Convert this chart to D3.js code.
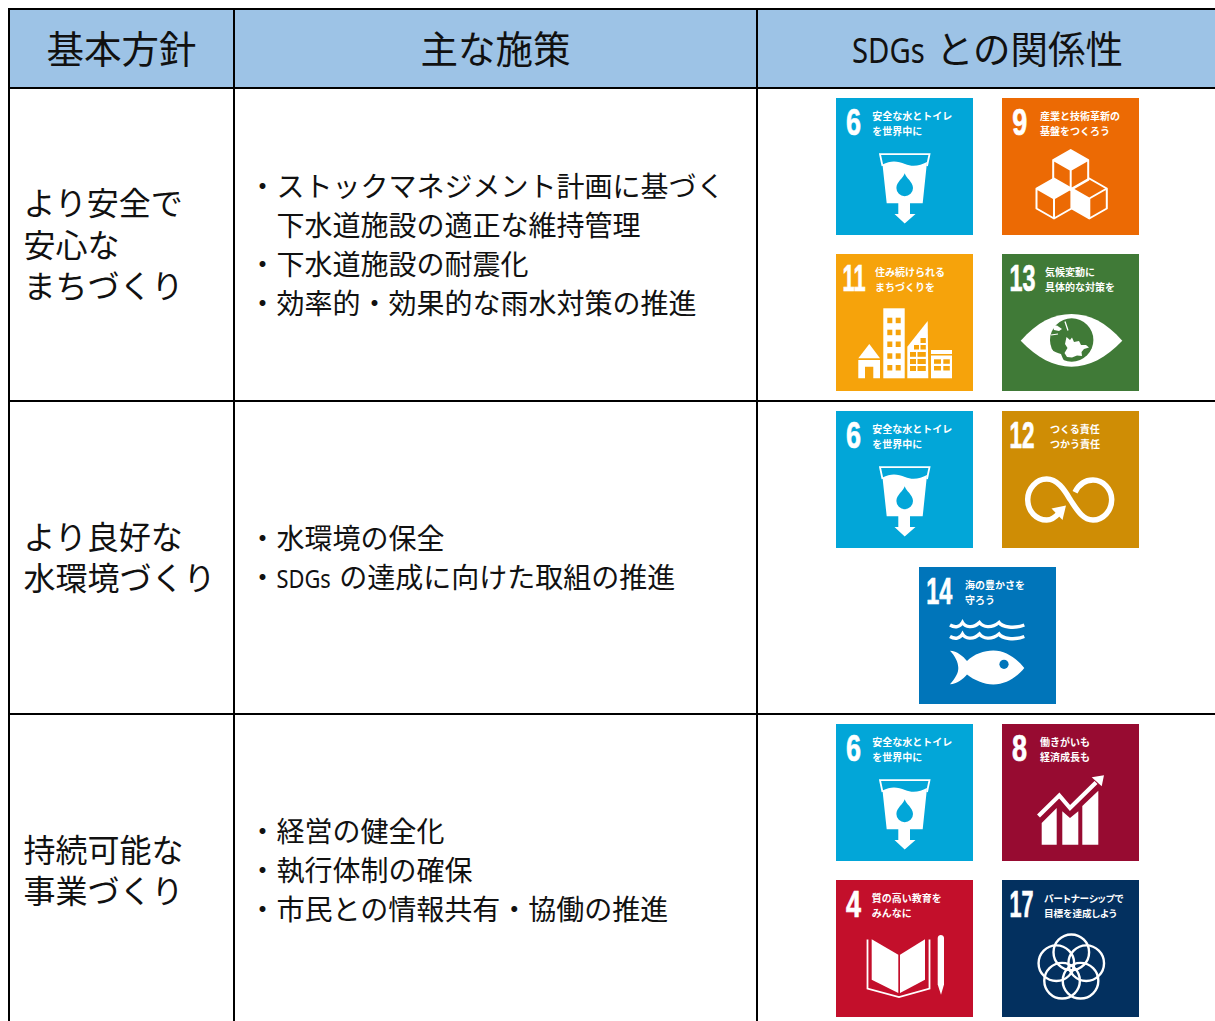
<!DOCTYPE html>
<html lang="ja">
<head>
    <meta charset="UTF-8">
    <title>基本方針とSDGs</title>
    <script src="https://cdnjs.cloudflare.com/ajax/libs/d3/7.8.5/d3.min.js"></script>
    <style>
        html, body { margin: 0; padding: 0; background: #fff; overflow: hidden; }
        svg { display: block; }
    </style>
</head>
<body>
<script>
    // table content
    var headers = ["基本方針", "主な施策", "SDGs との関係性"];
    var policies = [
        ["より安全で", "安心な", "まちづくり"],
        ["より良好な", "水環境づくり"],
        ["持続可能な", "事業づくり"]
    ];
    var measures = [
        ["・ストックマネジメント計画に基づく", "　下水道施設の適正な維持管理", "・下水道施設の耐震化", "・効率的・効果的な雨水対策の推進"],
        ["・水環境の保全", "・SDGs の達成に向けた取組の推進"],
        ["・経営の健全化", "・執行体制の確保", "・市民との情報共有・協働の推進"]
    ];
    var rowGoals = [[6, 9, 11, 13], [6, 12, 14], [6, 8, 4, 17]];

    // SDGs goals
    var goalIds = [4, 6, 8, 9, 11, 12, 13, 14, 17];
    var goalLines = [
        ["質の高い教育を", "みんなに"],
        ["安全な水とトイレ", "を世界中に"],
        ["働きがいも", "経済成長も"],
        ["産業と技術革新の", "基盤をつくろう"],
        ["住み続けられる", "まちづくりを"],
        ["つくる責任", "つかう責任"],
        ["気候変動に", "具体的な対策を"],
        ["海の豊かさを", "守ろう"],
        ["パートナーシップで", "目標を達成しよう"]
    ];
    var goalColors = ["#c30f2b", "#02a6d8", "#970b31", "#ec6a04", "#f6a30b", "#cf8d05", "#407a37", "#0075ba", "#03305f"];
    var goalLabelX = [35.7, 36.3, 38, 38, 39, 48, 43, 46, 42];
    var goalNumberX = [10, 10, 10, 10.3, 6.5, 7.5, 7.5, 7.2, 7.5];
    var goalNumberW = [15, 15, 15, 15, 23, 25, 26, 26, 24];

    var width = 1215, height = 1021;
    var lineColor = "#000", headFill = "#9dc3e6", textColor = "#111";
    var jpFont = "'Noto Sans CJK JP', sans-serif";

    var columnEdges = [9, 234, 757, 1300];
    var headStart = [46.5, 420.5, 852];
    var headTop = 9, headBottom = 88, rowH = 313;

    var rowY = d3.scaleLinear().domain([0, 1]).range([headBottom, headBottom + rowH]);
    var goalColor = d3.scaleOrdinal(goalIds, goalColors);
    var tileSize = 137;
    var tileX = d3.scalePoint().domain([0, 1]).range([836, 1002]);
    var tileY = d3.scalePoint().domain([0, 1]).range([10, 166]);

    var svg = d3.select("body").append("svg")
        .attr("width", width).attr("height", height)
        .attr("font-family", jpFont);

    // header band
    svg.append("rect").attr("x", columnEdges[0]).attr("y", headTop)
        .attr("width", width - columnEdges[0]).attr("height", headBottom - headTop)
        .attr("fill", headFill);

    function plain(x, y, size, str) {
        return svg.append("text").attr("x", x).attr("y", y).attr("font-size", size)
            .attr("fill", textColor).text(str);
    }
    // the word SDGs is squeezed narrow like in the source font, so it gets its own text
    function writeLine(x, y, size, str) {
        var at = str.indexOf("SDGs");
        if (at < 0) { plain(x, y, size, str); return; }
        var cursor = x;
        if (at > 0) { plain(cursor, y, size, str.slice(0, at)); cursor += at * size; }
        var w = size * 1.94;
        plain(cursor, y, size, "SDGs").attr("font-family", "'Noto Sans', sans-serif")
            .attr("font-size", size * 0.93)
            .attr("textLength", w).attr("lengthAdjust", "spacingAndGlyphs");
        plain(cursor + w + size * 0.3, y, size, str.slice(at + 4).trim());
    }

    headers.forEach(function (h, i) { writeLine(headStart[i], 62.5, 37.5, h); });

    // rows
    function lines(rowIdx, arr, x, size, step) {
        var mid = rowY(rowIdx + 0.5);
        arr.forEach(function (s, i) {
            var cy = mid + (i - (arr.length - 1) / 2) * step;
            writeLine(x, cy + size * 0.38, size, s);
        });
    }
    policies.forEach(function (p, i) { lines(i, p, 23.5, 32, 41.5); });
    measures.forEach(function (m, i) { lines(i, m, 248.5, 28, 39); });

    // icons, drawn in tile units
    function solid(g, d, fill) { return g.append("path").attr("d", d).attr("fill", fill || "#fff"); }
    function stroked(g, d, w) {
        return g.append("path").attr("d", d).attr("fill", "none").attr("stroke", "#fff").attr("stroke-width", w);
    }
    function cube(g, cx, cy, filled) {
        var dx = 17.5, dy = 10;
        var hex = "M" + cx + "," + (cy - 2 * dy) + "L" + (cx + dx) + "," + (cy - dy) + "V" + (cy + dy) +
            "L" + cx + "," + (cy + 2 * dy) + "L" + (cx - dx) + "," + (cy + dy) + "V" + (cy - dy) + "Z";
        var spokes = "M" + (cx - dx) + "," + (cy - dy) + "L" + cx + "," + cy + "L" + (cx + dx) + "," + (cy - dy) +
            "M" + cx + "," + cy + "V" + (cy + 2 * dy);
        stroked(g, hex + spokes, 2).attr("stroke-linejoin", "round");
        if (filled === "top") {
            solid(g, "M" + cx + "," + (cy - 2 * dy) + "L" + (cx + dx) + "," + (cy - dy) + "L" + cx + "," + cy + "L" + (cx - dx) + "," + (cy - dy) + "Z");
        } else if (filled === "left") {
            solid(g, "M" + (cx - dx) + "," + (cy - dy) + "L" + cx + "," + cy + "V" + (cy + 2 * dy) + "L" + (cx - dx) + "," + (cy + dy) + "Z");
        }
    }
    function rects(g, list, fill) {
        list.forEach(function (r) {
            g.append("rect").attr("x", r[0]).attr("y", r[1]).attr("width", r[2]).attr("height", r[3]).attr("fill", fill);
        });
    }

    var icons = {
        6: function (g, c) {
            stroked(g, "M46.5,68L44,56.2H93.5L91,68", 1.8);
            solid(g, "M46.5,66.5C55,62 62,63 69,66C76,69 84,68 91,64L86.7,105.3H74V116H79.5L68.7,125.5L58.5,116H62.3V105.3H50.7Z");
            solid(g, "M68.7,75.3C70,80 77,84 77,90A8.3,8.3 0 0 1 60.4,90C60.4,84 67.4,80 68.7,75.3Z", c);
        },
        9: function (g) {
            cube(g, 68.7, 72, "top");
            cube(g, 52, 100.5, "top");
            cube(g, 87.3, 100.5, "left");
        },
        11: function (g, c) {
            solid(g, "M22.3,104.3L33.3,90L44,104.3Z");
            solid(g, "M22.3,106H44V124.3H37.3V112.7H29V124.3H22.3Z");
            rects(g, [[47.3, 54.3, 21.4, 70]], "#fff");
            var wins = [];
            [63.7, 75.7, 87.5, 99.3, 111].forEach(function (y) { wins.push([51.3, y, 5, 5.5], [59.7, y, 5, 5.5]); });
            rects(g, wins, c);
            solid(g, "M71.3,92.7L91.7,67L92.3,124.3H71.3Z");
            rects(g, [[84.5, 84, 5.3, 5], [78, 91, 5, 4.5], [84.5, 91, 5.3, 4.5], [74, 98, 6, 4.8], [81.5, 98, 8.3, 4.8], [74, 105, 6, 5], [81.5, 105, 8.3, 5], [74, 112, 6, 5], [81.5, 112, 8.3, 5]], c);
            solid(g, "M95,96H116V124.3H95Z");
            rects(g, [[95, 100, 21, 1.5], [98, 105.3, 7, 4.5], [107.3, 105.3, 6.5, 4.5], [98, 112, 7, 4.5], [107.3, 112, 6.5, 4.5]], c);
        },
        12: function (g) {
            stroked(g, "M73,81.3C77,73 84,69 91,69C101,69 109.7,78 109.7,88.5C109.7,100 101,109 91,109C80,109 74,97 68,88.3C62,78 55,68 44.7,68C34,68 25.7,78 25.7,88.5C25.7,100 34,109 44.7,109C50,109 54,105.5 57,102", 5.5);
            solid(g, "M49.5,97.5L64,94.5L60.5,109Z");
        },
        13: function (g, c) {
            solid(g, "M18.7,86.7C35,68 52,60 69.5,60C87,60 104,68 120.3,86.7C104,104 87,112.7 69.5,112.7C52,112.7 35,104 18.7,86.7Z");
            g.append("circle").attr("cx", 69.7).attr("cy", 86).attr("r", 21.7).attr("fill", c);
            // seas over the green globe
            solid(g, "M64.5,83L68,86L70,83.5L72,88L77,87L79,91L84,91L87,93.5L82,95L79.5,98L80,102L75,101.5L70,103.5L65,103L62.5,99L65.5,94L63,90Z");
            solid(g, "M49,95C52,98 56,99 59,100C60,103 61,105 63,108.5L52,106Z");
            solid(g, "M50.5,72L55,71.5L60,75L57,77L52,76Z");
            stroked(g, "M63,67.5L66,76.5", 1.3);
            stroked(g, "M49,81L56,80", 1.1);
        },
        14: function (g, c) {
            [58, 69.5].forEach(function (y) {
                var w = "M31," + y;
                w += "C36," + (y + 3) + " 41," + (y + 2) + " 43.5," + (y - 2.5) + "C46," + (y + 2) + " 54," + (y + 4) + " 60.5," + (y - 2.5);
                w += "C64," + (y + 2) + " 72," + (y + 4) + " 80," + (y - 2.5) + "C83," + (y + 2) + " 95," + (y + 4) + " 105.3," + y;
                stroked(g, w, 3.4);
            });
            solid(g, "M31,83.7C38,84 44,89 48,94C55,87 65,83.5 74.3,83.5C87,83.5 98,92 105.3,101C98,110 87,117.5 74.3,117.5C65,117.5 55,113 48,107.5C44,112 38,117 31,117.3C37,110 39.3,106 39.3,101C39.3,95 36,89 31,83.7Z");
            g.append("circle").attr("cx", 85).attr("cy", 97.3).attr("r", 4.6).attr("fill", c);
        },
        8: function (g) {
            solid(g, "M39.7,99L54.7,84V120.7H39.7Z");
            solid(g, "M60.3,87.3L68,94L76.3,87.3V120.7H60.3Z");
            solid(g, "M80.3,82L96.3,66.7V120.7H80.3Z");
            stroked(g, "M36.5,92L57.3,71.5L68,84L94,58.5", 4.2);
            solid(g, "M89.7,53.3L102,51.3L99.7,62.3Z");
        },
        4: function (g) {
            solid(g, "M35.7,59.3L62.3,74.7V113L35.7,99.7Z");
            solid(g, "M64,74.7L89,59.3V99.7L64,113Z");
            stroked(g, "M31.5,59.5V108.5L63,117L93.5,108.5V59.5", 1.8);
            solid(g, "M101.7,58C101.7,54 108,54 108,58V104.5L105,114.7L101.7,104.5Z");
        },
        17: function (g) {
            var off = 15.7;
            d3.range(5).forEach(function (i) {
                var a = -Math.PI / 2 + i * 2 * Math.PI / 5;
                g.append("circle").attr("cx", 69.3 + off * Math.cos(a)).attr("cy", 88 + off * Math.sin(a))
                    .attr("r", 17.8).attr("fill", "none").attr("stroke", "#fff").attr("stroke-width", 2.4);
            });
        }
    };

    function drawTile(parent, id, x, y) {
        var idx = goalIds.indexOf(id);
        var g = parent.append("g").attr("transform", "translate(" + x + "," + y + ")");
        var c = goalColor(id);
        g.append("rect").attr("width", tileSize).attr("height", tileSize).attr("fill", c);
        // digits are condensed with a horizontal scale measured from the real text width
        var num = g.append("text")
            .attr("font-family", "'Liberation Sans', sans-serif").attr("font-weight", "bold").attr("font-size", 37)
            .attr("fill", "#fff").attr("stroke", "#fff").attr("stroke-width", 0.7).text(id);
        var sx = goalNumberW[idx] / num.node().getComputedTextLength();
        num.attr("transform", "translate(" + goalNumberX[idx] + ",37) scale(" + sx + ",1)");
        var labelSize = id === 17 ? 9.6 : 10;
        goalLines[idx].forEach(function (s, i) {
            g.append("text").attr("x", goalLabelX[idx]).attr("y", 22 + i * 15)
                .attr("font-size", labelSize).attr("font-weight", "bold").attr("fill", "#fff")
                .style("font-feature-settings", id === 17 ? "'palt'" : null).text(s);
        });
        icons[id](g, c);
    }

    rowGoals.forEach(function (goals, r) {
        var top = rowY(r);
        goals.forEach(function (id, i) {
            var x, col = i % 2, rw = i < 2 ? 0 : 1;
            if (goals.length === 3 && i === 2) x = (tileX(0) + tileX(1)) / 2;
            else x = tileX(col);
            drawTile(svg, id, x, top + tileY(rw));
        });
    });

    // grid on top
    columnEdges.forEach(function (x) {
        svg.append("line").attr("x1", x).attr("x2", x).attr("y1", headTop - 1).attr("y2", height)
            .attr("stroke", lineColor).attr("stroke-width", 2);
    });
    [headTop, headBottom, rowY(1), rowY(2)].forEach(function (y) {
        svg.append("line").attr("x1", columnEdges[0]).attr("x2", width).attr("y1", y).attr("y2", y)
            .attr("stroke", lineColor).attr("stroke-width", 2);
    });
</script>
</body>
</html>
